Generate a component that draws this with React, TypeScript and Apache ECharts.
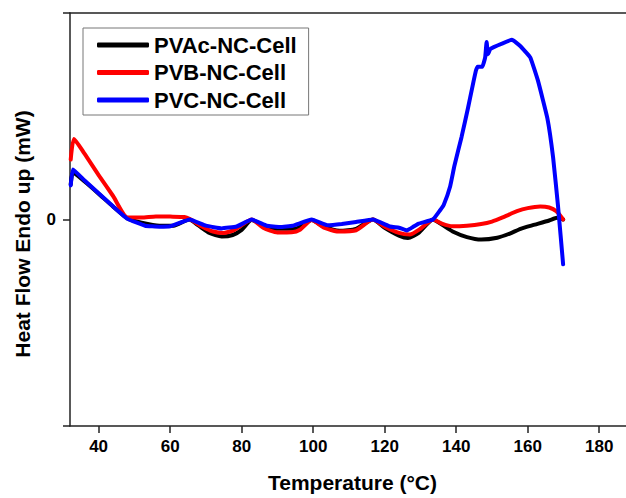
import React, { useEffect, useRef } from "react";
import * as echarts from "echarts";

const xTicks = [40, 60, 80, 100, 120, 140, 160, 180];
const seriesNames = ["PVAc-NC-Cell", "PVB-NC-Cell", "PVC-NC-Cell"];
const seriesColors = ["#000000", "#ff0000", "#0000ff"];

const pvac: [number, number][] = [
  [32.2, 0.17], [32.8, 0.227], [36, 0.185], [40, 0.125], [44, 0.063], [48.1, 0.005],
  [52, -0.015], [57, -0.03], [61, -0.03], [65.3, 0], [68, -0.03], [71, -0.065],
  [74.4, -0.082], [77.5, -0.075], [80, -0.05], [82.8, -0.003], [86, -0.028], [90, -0.045],
  [95, -0.045], [99.6, -0.003], [103, -0.035], [107.4, -0.055], [112, -0.045], [116.7, 0],
  [120, -0.04], [124, -0.078], [126.5, -0.09], [129.5, -0.065], [133.5, 0], [136, -0.025],
  [139, -0.058], [143, -0.085], [147, -0.097], [151.5, -0.088], [155, -0.068], [158, -0.045],
  [162, -0.025], [166, -0.005], [168.2, 0.008], [169.9, 0],
];

const pvb: [number, number][] = [
  [32.2, 0.29], [33.1, 0.39], [36, 0.32], [40, 0.215], [44, 0.115], [48.1, 0.01],
  [52, 0.01], [56, 0.015], [60, 0.014], [64, 0.012], [65.5, 0.002], [69, -0.035],
  [72, -0.058], [75, -0.065], [78, -0.05], [82.8, 0], [86, -0.04], [90, -0.063],
  [94, -0.062], [96.3, -0.05], [99.6, -0.003], [103, -0.04], [107, -0.058], [112, -0.052],
  [116.7, 0], [120, -0.035], [124, -0.065], [127, -0.073], [130, -0.045], [133.5, 0],
  [136, -0.02], [139, -0.033], [143, -0.03], [147, -0.022], [150, -0.01], [153, 0.01],
  [157, 0.04], [160, 0.055], [163.5, 0.063], [166, 0.058], [168, 0.04], [169.9, 0],
];

const pvc: [number, number][] = [
  [32.2, 0.165], [32.8, 0.242], [36, 0.19], [40, 0.127], [44, 0.064], [48.1, 0.003],
  [53, -0.03], [57, -0.035], [60, -0.033], [65.5, 0], [70, -0.03], [74.4, -0.043],
  [78.6, -0.034], [82.8, 0], [87, -0.03], [90.7, -0.036], [94.3, -0.03], [99.6, 0],
  [104, -0.028], [108, -0.022], [112, -0.012], [116.7, 0], [121.5, -0.034], [124, -0.04],
  [126.2, -0.053], [128, -0.035], [129.5, -0.02], [133.5, 0], [135.5, 0.045], [136.5, 0.07],
  [138.3, 0.16], [139.5, 0.26], [141.5, 0.4], [143.3, 0.54], [144.5, 0.64], [145.5, 0.72],
  [146, 0.74], [147.3, 0.74], [148.1, 0.785], [148.5, 0.86], [148.9, 0.8], [149.5, 0.825],
  [150.5, 0.835], [152.8, 0.852], [155.6, 0.87], [157.9, 0.84], [160.7, 0.785], [162.9, 0.67],
  [165.5, 0.49], [167.1, 0.3], [168.5, 0.06], [169.9, -0.217],
];

const seriesData = [pvac, pvb, pvc];
const seriesSmooth = [0.2, 0.2, 0.1];
const FONT = "'Liberation Sans', Arial, sans-serif";
const AXIS = "#222";

export default function App() {
  const ref = useRef<HTMLDivElement>(null);
  useEffect(() => {
    if (!ref.current) return;
    const chart = echarts.init(ref.current, undefined, { renderer: "svg" });
    chart.setOption({
      animation: false,
      backgroundColor: "#ffffff",
      grid: { left: 70, top: 13, bottom: 70, right: 0, show: false },
      legend: {
        orient: "vertical",
        left: 83,
        top: 28,
        padding: [6, 12, 4, 14],
        borderColor: "#777",
        borderWidth: 1,
        itemWidth: 52,
        itemHeight: 5,
        itemGap: 5.5,
        icon: "roundRect",
        textStyle: { fontSize: 22, fontWeight: "bold", fontFamily: FONT, color: "#000", lineHeight: 22 },
        data: seriesNames,
      },
      xAxis: [
        {
          type: "value",
          min: 32,
          max: 190,
          name: "Temperature (°C)",
          nameLocation: "middle",
          nameGap: 46,
          nameTextStyle: { fontSize: 21, fontWeight: "bold", fontFamily: FONT, color: "#000" },
          axisLine: { show: true, onZero: false, lineStyle: { color: AXIS, width: 1.5 } },
          axisTick: { show: true, length: 7, customValues: xTicks, lineStyle: { color: AXIS, width: 1.5 } },
          axisLabel: { customValues: xTicks, margin: 12, fontSize: 17, fontWeight: "bold", fontFamily: FONT, color: "#000" },
          splitLine: { show: false },
        },
        {
          type: "value",
          position: "top",
          min: 32,
          max: 190,
          axisLine: { show: true, onZero: false, lineStyle: { color: AXIS, width: 1.5 } },
          axisTick: { show: false },
          axisLabel: { show: false },
          splitLine: { show: false },
        },
      ],
      yAxis: {
        type: "value",
        min: -1,
        max: 1,
        interval: 1,
        axisLine: { show: true, onZero: false, lineStyle: { color: AXIS, width: 1.5 } },
        axisTick: { show: true, length: 7, lineStyle: { color: AXIS, width: 1.5 } },
        axisLabel: {
          formatter: (v: number) => (v === 0 ? "0" : ""),
          margin: 14,
          fontSize: 17,
          fontWeight: "bold",
          fontFamily: FONT,
          color: "#000",
        },
        splitLine: { show: false },
      },
      graphic: [
        {
          type: "text",
          x: 22,
          y: 234,
          rotation: Math.PI / 2,
          style: {
            text: "Heat Flow Endo up (mW)",
            fontSize: 21,
            fontWeight: "bold",
            fontFamily: FONT,
            fill: "#000",
            textAlign: "center",
            textVerticalAlign: "middle",
          },
        },
      ],
      series: seriesNames.map((name, i) => ({
        name,
        type: "line",
        data: seriesData[i],
        showSymbol: false,
        symbol: "none",
        smooth: seriesSmooth[i],
        color: seriesColors[i],
        lineStyle: { width: 4, color: seriesColors[i], cap: "round", join: "round" },
      })),
    });
    return () => chart.dispose();
  }, []);
  return (
    <div style={{ position: "fixed", left: 0, top: 0, width: 626, height: 498, overflow: "hidden", background: "#fff" }}>
      <div ref={ref} style={{ width: 635, height: 498 }} />
    </div>
  );
}
